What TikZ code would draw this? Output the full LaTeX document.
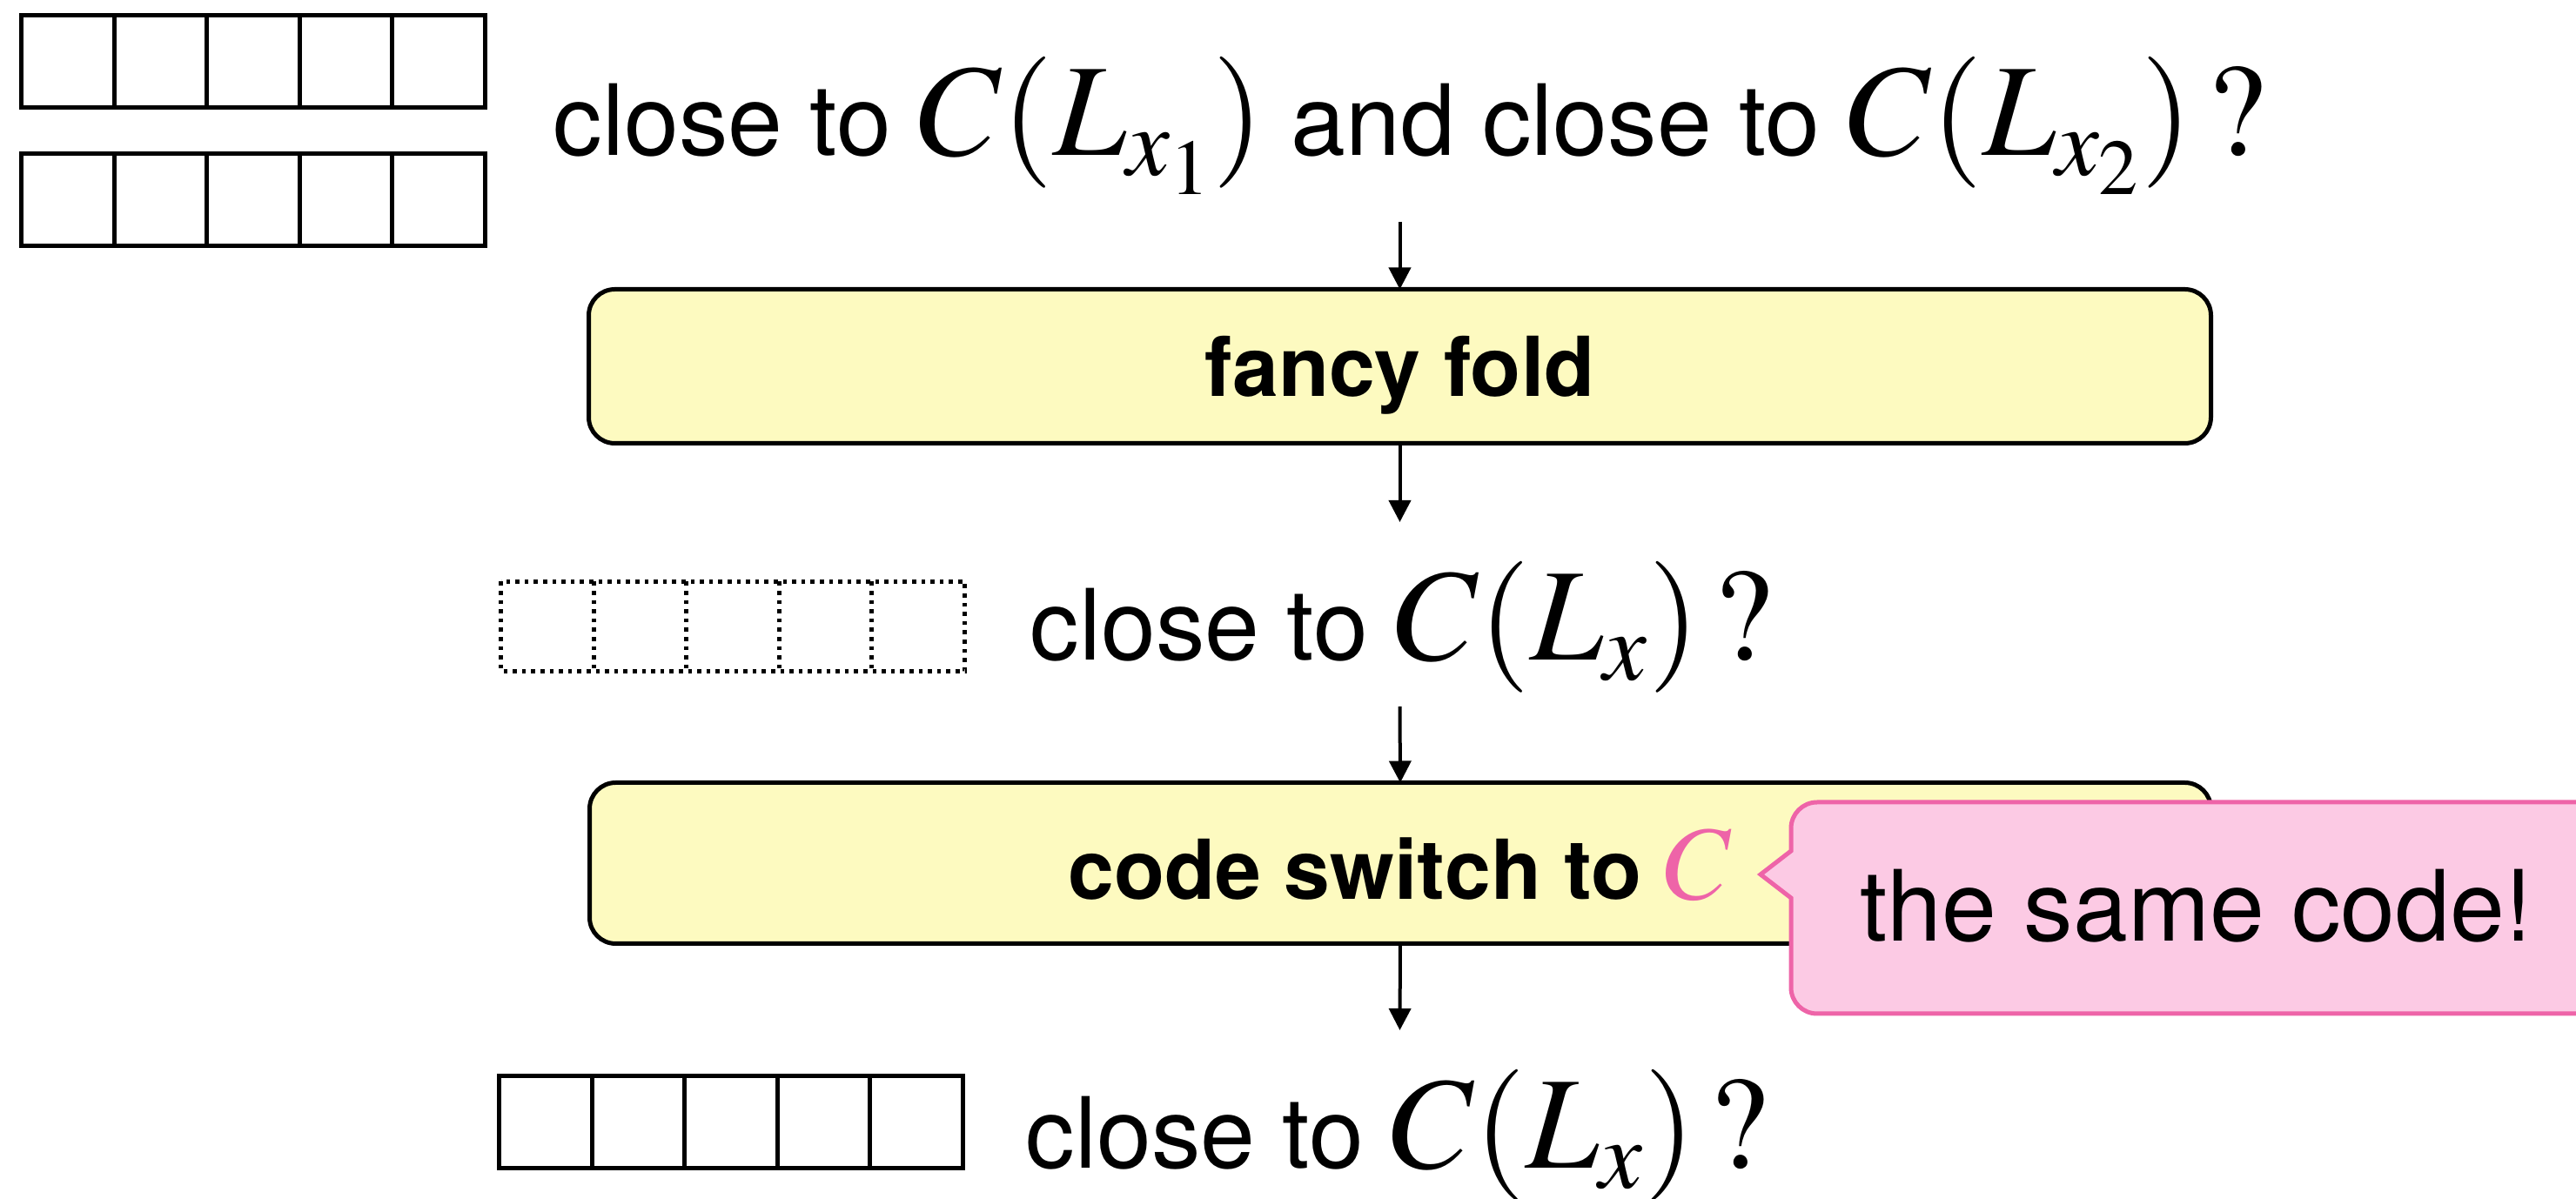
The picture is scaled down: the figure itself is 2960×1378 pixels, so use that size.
\documentclass[tikz,border=0pt]{standalone}
\usepackage{mathptmx}
\usepackage{fontspec}
\setmainfont{TeX Gyre Heros}
\usetikzlibrary{arrows.meta}

\definecolor{boxyellow}{HTML}{FDFAC0}
\definecolor{notefill}{HTML}{FCCAE4}
\definecolor{noteline}{HTML}{EE64A8}

% large Times-style math used in the questions
\newcommand{\bigmath}[1]{{\fontsize{37.75}{45}\selectfont$#1$}}
\newcommand{\codemath}[1]{{\fontsize{30.25}{36}\selectfont$#1$}}

\tikzset{
  cell/.style={draw, line width=1.25pt, minimum width=26.65pt, minimum height=26.5pt,
    inner sep=0pt, outer sep=0pt},
  blankcell/.style={minimum width=26.65pt, minimum height=25.75pt, inner sep=0pt, outer sep=0pt},
  dotline/.style={line width=1.25pt, dash pattern=on 1.15pt off 1.5pt},
  qtext/.style={anchor=base west, inner sep=0pt, font=\fontsize{28.25}{34}\selectfont},
  stage/.style={draw, line width=1.25pt, fill=boxyellow, rounded corners=7.5pt,
    inner sep=0pt, outer sep=0pt, text depth=0pt,
    font=\fontsize{23.75}{28}\selectfont\bfseries},
  flow/.style={line width=1pt, -{Triangle[width=6.25pt,length=6.25pt]}},
  note/.style={draw=noteline, fill=notefill, line width=1.25pt}
}

\begin{document}
\begin{tikzpicture}[x=0.25pt, y=-0.25pt]
  \useasboundingbox (0,0) rectangle (2960,1378);
  \clip (0,0) rectangle (2960,1378);

  % two input words
  \foreach \i in {0,...,4} {
    \node[cell] (ra\i) at ({77.8+106.6*\i},70.5) {};
    \node[cell] (rb\i) at ({77.8+106.6*\i},229.5) {};
  }
  \node[qtext] (q1) at (635,179)
    {close to \bigmath{C(L_{x_1})} and close to \bigmath{C(L_{x_2})\,?}};

  % fold stage
  \node[stage, minimum width=466pt, minimum height=44.25pt, text height=17.25pt]
    (fold) at (1608.5,421) {fancy fold};
  \coordinate (in1) at (1608.5,255);
  \coordinate (out1) at (1608.5,600);
  \draw[flow] (in1) -- (fold.north);
  \draw[flow] (fold.south) -- (out1);

  % folded word (dotted)
  \foreach \i in {0,...,4}
    \node[blankcell] (rc\i) at ({628.8+106.6*\i},720) {};
  \draw[dotline] (rc0.north west) rectangle (rc4.south east);
  \foreach \i in {1,...,4}
    \draw[dotline] (rc\i.north west) -- (rc\i.south west);
  \node[qtext] (q2) at (1183,759) {close to \bigmath{C(L_{x})\mkern2mu?}};

  % code switch stage
  \node[stage, minimum width=465.75pt, minimum height=46.25pt, text height=21pt]
    (switch) at (1609,992) {code switch to \codemath{\color{noteline}C}};
  \coordinate (in2) at (1608.5,812);
  \coordinate (out2) at (1608.5,1184);
  \draw[flow] (in2) -- (switch.north);
  \draw[flow] (switch.south) -- (out2);

  % resulting word
  \foreach \i in {0,...,4}
    \node[cell] (rd\i) at ({626.8+106.6*\i},1290) {};
  \node[qtext] (q3) at (1178,1343) {close to \bigmath{C(L_{x})\mkern2mu?}};

  % callout
  \draw[note] (2058,978) -- (2023,1005) -- (2058,1032)
    [rounded corners=7.5pt] -- (2058,1165) -- (3010,1165) -- (3010,922) -- (2058,922)
    [sharp corners] -- cycle;
  \node[qtext] (same) at (2137,1082) {the same code!};
\end{tikzpicture}
\end{document}
